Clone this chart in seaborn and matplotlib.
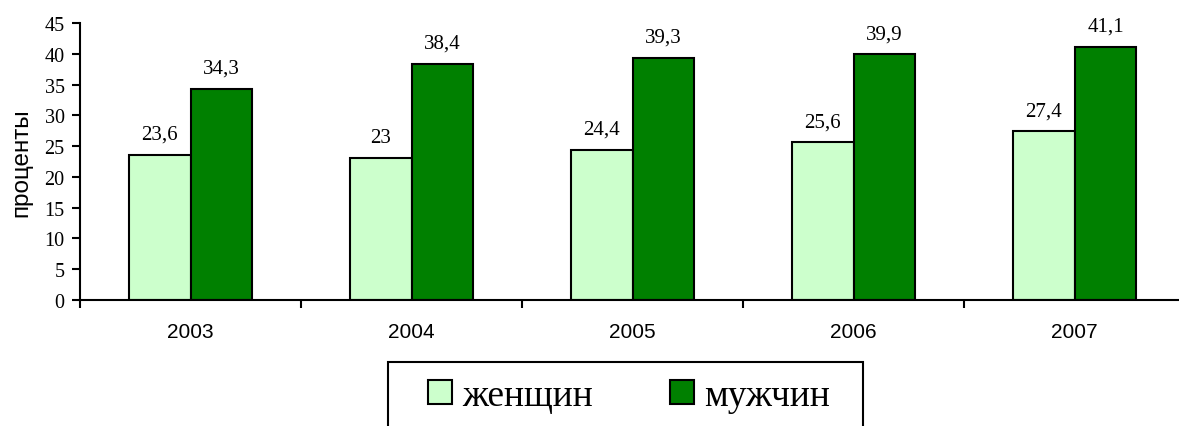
import pandas as pd
import seaborn as sns
import matplotlib.pyplot as plt
from matplotlib.ticker import FixedLocator
from matplotlib.patches import Rectangle

sns.set_style("white")
plt.rcParams['font.family'] = ['Liberation Serif', 'DejaVu Serif']
plt.rcParams.update({"text.color": "black", "axes.labelcolor": "black",
                     "xtick.color": "black", "ytick.color": "black"})

# data
years = ["2003", "2004", "2005", "2006", "2007"]
women = [23.6, 23.0, 24.4, 25.6, 27.4]
men = [34.3, 38.4, 39.3, 39.9, 41.1]
labels_w = ["23,6", "23", "24,4", "25,6", "27,4"]
labels_m = ["34,3", "38,4", "39,3", "39,9", "41,1"]

df = pd.DataFrame({
    "year": years * 2,
    "value": women + men,
    "sex": ["женщин"] * 5 + ["мужчин"] * 5,
})

fig = plt.figure(figsize=(11.79, 4.27), dpi=100)
ax = fig.add_axes([80 / 1179, 1 - 301 / 427, (1185 - 80) / 1179, (301 - 24) / 427])

sns.barplot(data=df, x="year", y="value", hue="sex", palette=["#CCFFCC", "#008000"],
            saturation=1, edgecolor="black", linewidth=1.5, width=0.56, ax=ax, legend=True)

ax.set_xlim(-0.5, 4.5)
ax.set_ylim(0, 45)
ax.set_yticks(range(0, 46, 5))
ax.tick_params(axis="y", labelsize=14.5, length=6, width=1.5, direction="out", left=True, pad=5)
ax.tick_params(axis="x", which="major", length=0, pad=16)
ax.xaxis.set_minor_locator(FixedLocator([i - 0.5 for i in range(6)]))
ax.tick_params(axis="x", which="minor", length=6, width=1.5, direction="out", bottom=True)
for lbl in ax.get_xticklabels():
    lbl.set_fontfamily(["Liberation Sans", "DejaVu Sans"])
    lbl.set_fontsize(15)

ax.set_xlabel("")
ax.set_ylabel("проценты", family=["Liberation Sans", "DejaVu Sans"], fontsize=17.5, labelpad=9)

for s in ["top", "right"]:
    ax.spines[s].set_visible(False)
for s in ["left", "bottom"]:
    ax.spines[s].set_linewidth(1.5)
    ax.spines[s].set_color("black")

# value labels
for cont, labs in zip(ax.containers, [labels_w, labels_m]):
    ax.bar_label(cont, labels=labs, padding=8, fontsize=15, color="black")

# legend below, with a box that runs off the bottom edge
handles, lab = ax.get_legend_handles_labels()
ax.get_legend().remove()
fig.patches.append(Rectangle((388 / 1179, -0.05), (863 - 388) / 1179, 0.05 + 1 - 363 / 427,
                             transform=fig.transFigure, fill=False, edgecolor="black",
                             linewidth=1.5, clip_on=False))
leg = fig.legend(handles, lab, loc="center left", bbox_to_anchor=(428 / 1179, 1 - 397 / 427),
                 ncol=2, fontsize=27, frameon=False, labelcolor="black",
                 handlelength=0.64, handleheight=0.64, handletextpad=0.27, columnspacing=2.05,
                 borderpad=0, borderaxespad=0)
for h in leg.legend_handles:
    h.set_linewidth(1.5)

fig.savefig("out.png", dpi=100)
